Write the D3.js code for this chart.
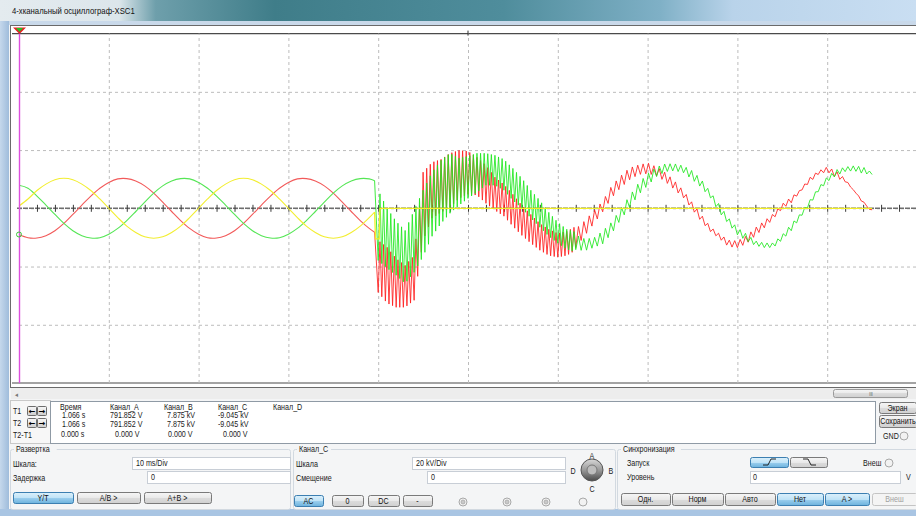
<!DOCTYPE html>
<html>
<head>
<meta charset="utf-8">
<script src="https://cdn.jsdelivr.net/npm/d3@7"></script>
<style>
body { margin: 0; background: #fff; overflow: hidden; }
svg { display: block; font-family: "Liberation Sans", Arial, sans-serif; font-size: 8.5px; }
</style>
</head>
<body>
<svg id="scope" width="916" height="516"></svg>
<script>
// screen: 10 ms/Div horizontally, 20 kV/Div vertically (values in ms and kV)
var timeTicks = d3.range(0, 101, 10);
var voltTicks = d3.range(-60, 61, 20);
var minorTicks = d3.range(0, 101, 2);

// before the switching: one sample per ms, last sample at the switching instant
var preTime = d3.range(0, 40).concat([39.6]);
var chanA = [0.8, 3.2, 6.1, 8.3, 9.8, 10.3, 9.8, 8.3, 6.1, 3.2, 0, -3.2, -6.1, -8.3, -9.8, -10.3, -9.8, -8.3, -6.1, -3.2,
             0, 3.2, 6.1, 8.3, 9.8, 10.3, 9.8, 8.3, 6.1, 3.2, 0, -3.2, -6.1, -8.3, -9.8, -10.3, -9.8, -8.3, -6.1, -3.2, -1.3];
var chanB = [7.9, 6.9, 4.2, 1.1, -2.1, -5.2, -7.7, -9.4, -10.2, -10.1, -8.9, -6.9, -4.2, -1.1, 2.1, 5.2, 7.7, 9.4, 10.2, 10.1,
             8.9, 6.9, 4.2, 1.1, -2.1, -5.2, -7.7, -9.4, -10.2, -10.1, -8.9, -6.9, -4.2, -1.1, 2.1, 5.2, 7.7, 9.4, 10.2, 10.1, 9.5];
var chanC = [-9.0, -10.1, -10.2, -9.4, -7.7, -5.2, -2.1, 1.1, 4.2, 6.9, 8.9, 10.1, 10.2, 9.4, 7.7, 5.2, 2.1, -1.1, -4.2, -6.9,
             -8.9, -10.1, -10.2, -9.4, -7.7, -5.2, -2.1, 1.1, 4.2, 6.9, 8.9, 10.1, 10.2, 9.4, 7.7, 5.2, 2.1, -1.1, -4.2, -6.9, -8.2];

// after the switching: channel A collapses to zero
var chanAPostTime = [39.7, 40.1, 40.2, 95];
var chanAPost = [-10.5, -10.5, 0, 0];

// after the switching: upper / lower envelope of the rippled traces, one sample per ms (40..95)
var postTime = d3.range(40, 96);
var chanCHi = [-11.0, -13.4, -17.2, -19.6, -16.2, 12.4, 15.8, 16.8, 18.9, 19.9, 19.6, 17.5, 14.8, 10.7, 8.2, 4.8, 1.0, -2.1, -5.2, -7.2,
               -8.6, -7.9, -6.2, -3.4, 0, 3.4, 8.6, 12.0, 14.8, 15.8, 16.5, 15.1, 13.1, 10.3, 6.9, 2.7, -1.4, -5.5, -7.9, -10.0,
               -10.3, -8.6, -5.8, -3.4, -1.0, 2.4, 4.8, 7.2, 11.3, 13.7, 15.1, 13.7, 11.0, 6.9, 3.4, -0.7];
var chanCLo = [-28.9, -32.6, -34.0, -34.0, -31.6, -11.0, -3.4, -1.4, 0.3, 3.4, 4.8, 4.5, 1.7, -0.7, -2.7, -6.2, -9.3, -12.0, -14.4, -16.2,
               -16.8, -16.2, -14.4, -10.3, -6.2, -2.1, 2.7, 6.2, 8.9, 10.7, 11.0, 10.3, 8.2, 5.5, 2.7, -1.4, -5.5, -8.9, -11.3, -14.1,
               -14.4, -13.1, -10.3, -7.6, -4.5, -1.0, 1.0, 4.8, 7.9, 10.7, 11.7, 9.6, 8.2, 5.2, 0.7, -1.4];
var chanBHi = [6.2, 0, -4.5, -7.6, -0.7, 6.2, 12.4, 16.5, 18.9, 17.2, 17.9, 18.9, 18.9, 18.2, 16.8, 13.7, 10.3, 6.2, 2.7, -1.4,
               -4.8, -7.2, -8.2, -9.6, -9.3, -6.9, -3.8, 0.7, 5.2, 9.6, 12.7, 15.1, 16.2, 16.2, 15.5, 13.7, 10.7, 6.5, 2.1, -2.4,
               -5.8, -7.9, -10.3, -11.0, -11.0, -8.2, -4.5, -1.0, 3.4, 7.9, 11.7, 14.1, 15.1, 15.5, 15.1, 13.1];
var chanBLo = [-17.9, -20.6, -23.0, -25.8, -22.0, -16.5, -9.6, -5.2, -1.7, 1.0, 3.4, 5.5, 7.9, 7.9, 6.2, 2.7, 0, -3.4, -6.5, -9.6,
               -12.0, -14.1, -15.1, -15.5, -14.4, -13.1, -9.6, -4.8, -0.7, 3.8, 6.9, 10.0, 11.7, 12.0, 11.3, 8.9, 6.2, 2.7, -2.4, -6.2,
               -10.0, -12.0, -13.7, -14.4, -14.4, -11.7, -8.6, -4.1, 0, 4.8, 8.2, 10.3, 11.7, 12.0, 11.0, 10.7];

// cursor readout
var readHeads = ["Время", "Канал_A", "Канал_B", "Канал_C", "Канал_D"];
var readT1 = ["1.066 s", "791.852 V", "7.875 kV", "-9.045 kV"];
var readT2 = ["1.066 s", "791.852 V", "7.875 kV", "-9.045 kV"];
var readDiff = ["0.000 s", "0.000 V", "0.000 V", "0.000 V"];

var svg = d3.select("#scope");
var plot = {left: 19, right: 917, top: 33.6, bottom: 383};

var x = d3.scaleLinear().domain([0, 100]).range([plot.left, plot.right]);
var y = d3.scaleLinear().domain([-60, 60]).range([plot.bottom, plot.top]);

var defs = svg.append("defs");
function grad(id, stops, vertical) {
	var g = defs.append("linearGradient").attr("id", id)
		.attr("x1", 0).attr("y1", 0).attr("x2", vertical ? 0 : 1).attr("y2", vertical ? 1 : 0);
	stops.forEach(function(s){
		g.append("stop").attr("offset", s[0]).attr("stop-color", s[1]);
	});
}
grad("title", [[0, "#e4ebef"], [0.13, "#dce6eb"], [0.17, "#6e9fab"], [0.3, "#3f7d89"], [0.55, "#4f8d9c"], [0.72, "#7fb0c6"], [0.8, "#b9d3ea"], [1, "#c9def2"]]);
grad("btn", [[0, "#f6f6f6"], [0.5, "#e9e9e9"], [0.5, "#dcdcdc"], [1, "#d0d0d0"]], true);
grad("btnOn", [[0, "#dcf0fb"], [0.5, "#bfe3f7"], [0.5, "#9ccfee"], [1, "#6cb2dd"]], true);
grad("frame", [[0, "#c5d8ec"], [1, "#9fbcdb"]]);
grad("knob", [[0, "#d8d8d8"], [0.5, "#9a9a9a"], [1, "#4a4a4a"]], true);

// window chrome
svg.append("rect").attr("width", 916).attr("height", 516).attr("fill", "#f4f5f6");
svg.append("rect").attr("width", 916).attr("height", 21).attr("fill", "url(#title)");
svg.append("rect").attr("y", 21).attr("width", 916).attr("height", 4).attr("fill", "#c9d9ea");
svg.append("rect").attr("y", 21).attr("width", 9).attr("height", 495).attr("fill", "url(#frame)");
svg.append("rect").attr("y", 509).attr("width", 916).attr("height", 7).attr("fill", "#a9c5e3");
svg.append("text").attr("x", 12).attr("y", 14).attr("fill", "#111").attr("font-size", "9px").text("4-хканальный осциллограф-XSC1")
	.attr("transform", "translate(12,14) scale(0.86,1) translate(-12,-14)");

// screen
svg.append("rect").attr("x", 10.5).attr("y", 25.5).attr("width", 910).attr("height", 362)
	.attr("fill", "#fff").attr("stroke", "#6a6a6a");
svg.append("line").attr("x1", 12).attr("x2", 917).attr("y1", plot.top).attr("y2", plot.top).attr("stroke", "#4a4a4a").attr("stroke-width", 1.2);
svg.append("line").attr("x1", 12).attr("x2", 917).attr("y1", plot.bottom).attr("y2", plot.bottom).attr("stroke", "#4a4a4a").attr("stroke-width", 1.2);

var vgrid = svg.append("g").attr("transform", "translate(0," + plot.bottom + ")")
	.call(d3.axisBottom(x).tickValues(timeTicks.slice(1, -1)).tickSize(-(plot.bottom - plot.top)).tickFormat(""));
vgrid.select(".domain").remove();
vgrid.selectAll("line").attr("stroke", "#bcbcbc").attr("stroke-dasharray", "3,3");

var hgrid = svg.append("g").attr("transform", "translate(" + plot.left + ",0)")
	.call(d3.axisLeft(y).tickValues(voltTicks.slice(1, -1)).tickSize(-(plot.right - plot.left)).tickFormat(""));
hgrid.select(".domain").remove();
hgrid.selectAll("line").attr("stroke", "#bcbcbc").attr("stroke-dasharray", "3,3");

// centre line with minor divisions
svg.append("line").attr("x1", 17).attr("x2", plot.right).attr("y1", y(0)).attr("y2", y(0))
	.attr("stroke", "#6e6e6e").attr("stroke-width", 1.6).attr("stroke-dasharray", "5,1");
var minor = svg.append("g").attr("transform", "translate(0," + (y(0) - 3.5) + ")")
	.call(d3.axisBottom(x).tickValues(minorTicks).tickSize(7).tickFormat(""));
minor.select(".domain").remove();
minor.selectAll("line").attr("stroke", "#3a3a3a");
svg.append("line").attr("x1", x(50)).attr("x2", x(50)).attr("y1", plot.top - 3).attr("y2", plot.top + 2).attr("stroke", "#333");

// traces
var smooth = d3.line().curve(d3.curveCatmullRom).x(function(d){ return x(d[0]); }).y(function(d){ return y(d[1]); });
var straight = d3.line().x(function(d){ return x(d[0]); }).y(function(d){ return y(d[1]); });

function pairs(ts, vs) {
	return ts.map(function(t, i){ return [t, vs[i]]; });
}

// the envelopes include the line thickness, so the later, finer part is pulled in a little
function ripple(hi, lo, startPoint) {
	var pts = [startPoint], t = postTime[0], k = 0;
	while (t <= postTime[postTime.length - 1] + 1e-6) {
		var i = Math.min(Math.floor(t - postTime[0]), hi.length - 2);
		var f = t - postTime[i];
		var h = hi[i] + (hi[i + 1] - hi[i]) * f, l = lo[i] + (lo[i + 1] - lo[i]) * f;
		var late = t >= 62, pull = late ? 0.9 : 0;
		pts.push([t, (k % 2) ? h - pull : l + pull]);
		t += late ? 0.3 : 0.2;
		k++;
	}
	return pts;
}

var traces = svg.append("g").attr("fill", "none");
var preC = pairs(preTime, chanC), preB = pairs(preTime, chanB), preA = pairs(preTime, chanA);

traces.append("path").attr("d", smooth(preC)).attr("stroke", "#f25a5a").attr("stroke-width", 1.1);
traces.append("path").attr("d", straight(ripple(chanCHi, chanCLo, preC[preC.length - 1])))
	.attr("stroke", "#ff1e1e").attr("stroke-width", 1).attr("stroke-opacity", 0.85);
traces.append("path").attr("d", smooth(preB)).attr("stroke", "#55e655").attr("stroke-width", 1.1);
traces.append("path").attr("d", straight(ripple(chanBHi, chanBLo, preB[preB.length - 1])))
	.attr("stroke", "#1ee81e").attr("stroke-width", 1).attr("stroke-opacity", 0.85);
traces.append("path").attr("d", smooth(preA)).attr("stroke", "#f2ee30").attr("stroke-width", 1.1);
traces.append("path").attr("d", straight([preA[preA.length - 1]].concat(pairs(chanAPostTime, chanAPost))))
	.attr("stroke", "#f2ee26").attr("stroke-width", 1.3);

// cursor T1/T2
svg.append("line").attr("x1", plot.left + 0.5).attr("x2", plot.left + 0.5).attr("y1", plot.top).attr("y2", plot.bottom)
	.attr("stroke", "#dc4fdc").attr("stroke-width", 1.4);
svg.append("path").attr("d", "M13,27.5H26L19.5,34Z").attr("fill", "#e52020");
svg.append("path").attr("d", "M16,28H23L19.5,32Z").attr("fill", "#25c025");
svg.append("circle").attr("cx", plot.left).attr("cy", y(chanC[0])).attr("r", 2.5)
	.attr("fill", "none").attr("stroke", "#3cc83c");

// helpers for the control panel
function label(g, px, py, s, anchor, color) {
	return g.append("text").attr("x", px).attr("y", py).attr("text-anchor", anchor || "start")
		.attr("fill", color || "#1a1a1a")
		.attr("transform", "translate(" + px + "," + py + ") scale(0.84,1) translate(" + (-px) + "," + (-py) + ")")
		.text(s);
}
function button(g, bx, by, w, h, s, on, disabled) {
	g.append("rect").attr("x", bx + 0.5).attr("y", by + 0.5).attr("width", w).attr("height", h).attr("rx", 2)
		.attr("fill", disabled ? "#f4f4f4" : (on ? "url(#btnOn)" : "url(#btn)"))
		.attr("stroke", disabled ? "#c4c4c4" : (on ? "#3c7fb1" : "#7a7a7a"));
	if (s) label(g, bx + w / 2, by + h / 2 + 3.5, s, "middle", disabled ? "#a0a0a0" : "#111");
}
function field(g, fx, fy, w, h, s, tx) {
	g.append("rect").attr("x", fx + 0.5).attr("y", fy + 0.5).attr("width", w).attr("height", h)
		.attr("fill", "#fff").attr("stroke", "#c8ced6");
	label(g, tx, fy + h / 2 + 3.5, s);
}
function radio(g, cx, cy, dot) {
	g.append("circle").attr("cx", cx).attr("cy", cy).attr("r", 4).attr("fill", "#f2f2f2").attr("stroke", "#a8a8a8");
	if (dot) g.append("circle").attr("cx", cx).attr("cy", cy).attr("r", 2).attr("fill", "#c9c9c9").attr("stroke", "#9a9a9a").attr("stroke-width", 0.6);
}
function group(g, gx, gy, w, h, title) {
	g.append("rect").attr("x", gx + 0.5).attr("y", gy + 0.5).attr("width", w).attr("height", h).attr("rx", 2)
		.attr("fill", "none").attr("stroke", "#d2d9e0");
	g.append("rect").attr("x", gx + 4).attr("y", gy - 3).attr("width", title.length * 4.3 + 4).attr("height", 7).attr("fill", "#f4f5f6");
	label(g, gx + 6, gy + 3.5, title);
}

var panel = svg.append("g");

// scroll bar
panel.append("rect").attr("x", 11).attr("y", 388).attr("width", 905).attr("height", 11).attr("fill", "#ededed");
label(panel, 14, 397, "◄", "start", "#777").attr("font-size", "6px");
panel.append("rect").attr("x", 833.5).attr("y", 389.5).attr("width", 74).attr("height", 8).attr("rx", 2)
	.attr("fill", "url(#btn)").attr("stroke", "#9a9a9a");
label(panel, 871, 396, "III", "middle", "#555").attr("font-size", "5px");

// readout
panel.append("rect").attr("x", 10.5).attr("y", 400.5).attr("width", 40).attr("height", 43).attr("fill", "#f7f7f7").attr("stroke", "#c9c9c9");
panel.append("rect").attr("x", 50.5).attr("y", 401.5).attr("width", 825).attr("height", 42).attr("fill", "#fff").attr("stroke", "#8f9aa5");
[["T1", 414, 406], ["T2", 426, 418]].forEach(function(r){
	label(panel, 13, r[1], r[0]);
	["←", "→"].forEach(function(a, i){
		panel.append("rect").attr("x", 27.5 + i * 10).attr("y", r[2] + 0.5).attr("width", 9).attr("height", 9).attr("rx", 1)
			.attr("fill", "url(#btn)").attr("stroke", "#6d6d6d");
		panel.append("text").attr("x", 32 + i * 10).attr("y", r[2] + 8).attr("text-anchor", "middle")
			.attr("font-family", "DejaVu Sans").attr("font-weight", "bold").attr("font-size", "8px").text(a);
	});
});
label(panel, 13, 438, "T2-T1");

var colX = [60, 110, 164, 218, 273];
readHeads.forEach(function(s, i){ label(panel, colX[i], 410, s); });
var valX = [62, 110, 167, 218];
readT1.forEach(function(s, i){ label(panel, valX[i], 418, s); });
readT2.forEach(function(s, i){ label(panel, valX[i], 427, s); });
var diffX = [61, 115, 168, 223];
readDiff.forEach(function(s, i){ label(panel, diffX[i], 437, s); });

button(panel, 879, 402, 37, 11, "Экран");
button(panel, 879, 415, 38, 12, "Сохранить");
label(panel, 883, 439, "GND");
radio(panel, 904, 436);

// time base
group(panel, 10, 449, 280, 60, "Развертка");
label(panel, 13, 467, "Шкала:");
field(panel, 132, 457, 158, 12, "10 ms/Div", 136);
label(panel, 13, 481, "Задержка");
field(panel, 147, 471, 143, 12, "0", 151);
button(panel, 13, 492, 60, 11, "Y/T", true);
button(panel, 77, 492, 63, 11, "A/B >");
button(panel, 144, 492, 67, 11, "A+B >");

// channel settings
group(panel, 293, 449, 322, 60, "Канал_C");
label(panel, 296, 467, "Шкала");
field(panel, 412, 457, 153, 12, "20 kV/Div", 416);
label(panel, 296, 481, "Смещение");
field(panel, 427, 471, 138, 12, "0", 431);
button(panel, 294, 495, 29, 11, "AC", true);
button(panel, 332, 495, 31, 11, "0");
button(panel, 368, 495, 31, 11, "DC");
button(panel, 403, 495, 29, 11, "-");
radio(panel, 463, 502, true);
radio(panel, 507, 502, true);
radio(panel, 546, 502, true);
radio(panel, 583, 502);
panel.append("circle").attr("cx", 592).attr("cy", 470).attr("r", 11).attr("fill", "url(#knob)").attr("stroke", "#555");
panel.append("circle").attr("cx", 592).attr("cy", 470).attr("r", 5).attr("fill", "#bdbdbd").attr("stroke", "#777");
label(panel, 592, 459, "A", "middle");
label(panel, 611, 474, "B", "middle");
label(panel, 592, 492, "C", "middle");
label(panel, 573, 474, "D", "middle");

// trigger
group(panel, 617, 449, 305, 60, "Синхронизация");
label(panel, 627, 466, "Запуск");
button(panel, 750, 457, 38, 10, "", true);
button(panel, 790, 457, 37, 10, "");
panel.append("path").attr("d", "M763,465H768L771,459H776").attr("fill", "none").attr("stroke", "#111").attr("stroke-width", 0.9);
panel.append("path").attr("d", "M803,459H808L811,465H816").attr("fill", "none").attr("stroke", "#111").attr("stroke-width", 0.9);
label(panel, 863, 466, "Внеш");
radio(panel, 889, 463);
label(panel, 627, 480, "Уровень");
field(panel, 750, 471, 150, 12, "0", 753);
label(panel, 906, 480, "V");
button(panel, 621, 493, 49, 12, "Одн.");
button(panel, 672, 493, 51, 12, "Норм");
button(panel, 725, 493, 50, 12, "Авто");
button(panel, 777, 493, 46, 12, "Нет", true);
button(panel, 825, 493, 44, 12, "A >", true);
button(panel, 872, 493, 45, 12, "Внеш", false, true);
</script>
</body>
</html>
